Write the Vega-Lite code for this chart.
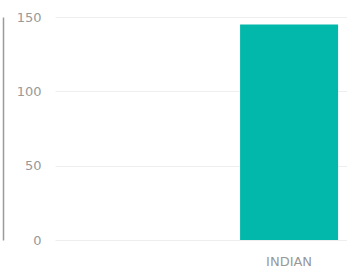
{
  "$schema": "https://vega.github.io/schema/vega-lite/v6.json",
  "autosize": "none",
  "width": 292,
  "height": 223,
  "padding": {"left": 55, "top": 17, "right": 0, "bottom": 35},
  "background": "white",
  "config": {
    "view": {"stroke": null},
    "font": "DejaVu Sans"
  },
  "data": {"values": [{"cuisine": "INDIAN", "count": 145}]},
  "mark": {"type": "bar", "color": "#01B8AA"},
  "encoding": {
    "x": {
      "field": "cuisine",
      "type": "nominal",
      "scale": {"paddingInner": 0, "paddingOuter": 0.99, "align": 0.954},
      "axis": {
        "title": null,
        "domain": false,
        "ticks": false,
        "grid": false,
        "labelAngle": 0,
        "labelColor": "#999999",
        "labelFontSize": 13,
        "labelPadding": 15
      }
    },
    "y": {
      "field": "count",
      "type": "quantitative",
      "scale": {"domain": [0, 150]},
      "axis": {
        "title": null,
        "values": [0, 50, 100, 150],
        "offset": 52,
        "domain": true,
        "domainColor": "#9a9a9a",
        "domainWidth": 1.5,
        "ticks": false,
        "labelPadding": -38,
        "labelColor": "#999999",
        "labelFontSize": 13,
        "grid": true,
        "gridColor": "#eeeeee",
        "gridWidth": 1
      }
    }
  }
}
